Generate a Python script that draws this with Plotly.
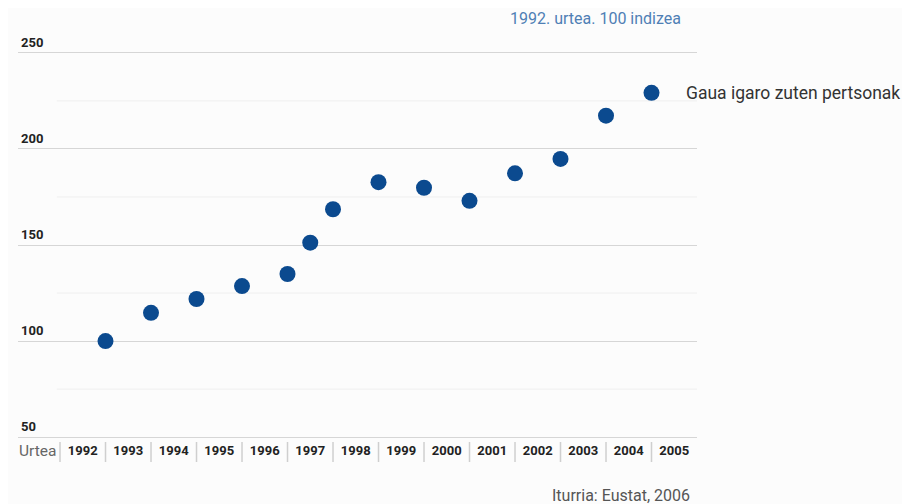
import plotly.graph_objects as go

# Data
years = [1992, 1993, 1994, 1995, 1996, 1997, 1998, 1999, 2000, 2001, 2002, 2003, 2004, 2005]
point_pos = [1993, 1994, 1995, 1996, 1997, 1997.5, 1998, 1999, 2000, 2001, 2002, 2003, 2004, 2005]
index_values = [100, 114.7, 121.9, 128.6, 134.9, 151.2, 168.6, 182.7, 179.8, 173.0, 187.3, 194.8, 217.3, 229.2]
y_major = [50, 100, 150, 200, 250]
y_minor = [75, 125, 175, 225]
series_name = "Gaua igaro zuten pertsonak"
subtitle = "1992. urtea. 100 indizea"
source = "Iturria: Eustat, 2006"
row_label = "Urtea"

BG = "#fcfcfc"
BLUE = "#0b4a8f"
FONT = "Roboto, Open Sans, sans-serif"

# page has an 8px body margin: compensate
L, R, T, B = 10, 213, 41, 63
W, H = 902, 496
PW = W - L - R
PH = H - T - B

fig = go.Figure()
fig.add_trace(go.Scatter(
    x=point_pos, y=index_values, mode="markers",
    marker=dict(size=16, color=BLUE),
    showlegend=False, hoverinfo="skip",
))

x0 = years[0] - 0.923
x1 = years[-1] + 1

shapes = []
for v in y_minor:
    shapes.append(dict(type="line", xref="x", yref="y", x0=years[0] - 0.07, x1=x1, y0=v, y1=v,
                       line=dict(color="#efefef", width=1), layer="below"))
for yr in years:
    xp = (yr - x0) / (x1 - x0)
    shapes.append(dict(type="line", xref="paper", yref="paper", x0=xp, x1=xp,
                       y0=-1 / PH, y1=-21 / PH,
                       line=dict(color="#cfcfcf", width=1.5)))

annotations = [
    dict(text=subtitle, xref="paper", yref="paper", x=(683 - 18) / PW, y=1, yshift=31,
         xanchor="right", yanchor="middle", showarrow=False,
         font=dict(family=FONT, size=16, color="#4f7fb5")),
    dict(text=series_name, xref="x", yref="y", x=point_pos[-1], y=index_values[-1],
         xshift=32, xanchor="left", yanchor="middle", showarrow=False,
         font=dict(family=FONT, size=17.5, color="#333333")),
    dict(text=source, xref="paper", yref="paper", x=(692 - 18) / PW, y=0, yshift=-54,
         xanchor="right", yanchor="middle", showarrow=False,
         font=dict(family=FONT, size=16, color="#555555")),
    dict(text=row_label, xref="paper", yref="paper", x=0, y=0, yshift=-10, xshift=-1,
         xanchor="left", yanchor="middle", showarrow=False,
         font=dict(family=FONT, size=15.5, color="#666666")),
]
for v in y_major:
    annotations.append(dict(text=str(v), xref="paper", yref="y", x=0, y=v, xshift=1, yshift=1,
                            xanchor="left", yanchor="bottom", showarrow=False,
                            font=dict(family=FONT, size=13, color="#222222", weight="bold")))

fig.update_layout(
    width=W, height=H,
    margin=dict(l=L, r=R, t=T, b=B),
    paper_bgcolor=BG, plot_bgcolor=BG,
    shapes=shapes, annotations=annotations,
    xaxis=dict(range=[x0, x1], showgrid=False, zeroline=False, showline=False,
               tickvals=[y + 0.5 for y in years], ticktext=[str(y) for y in years],
               ticks="", tickfont=dict(family=FONT, size=13, color="#222222", weight="bold"),
               ticklabelstandoff=0),
    yaxis=dict(range=[48, 252], tickvals=y_major, showgrid=True, gridcolor="#d6d6d6", gridwidth=1,
               zeroline=False, showline=False, ticks="", showticklabels=False),
)

fig.write_html("out.html")
